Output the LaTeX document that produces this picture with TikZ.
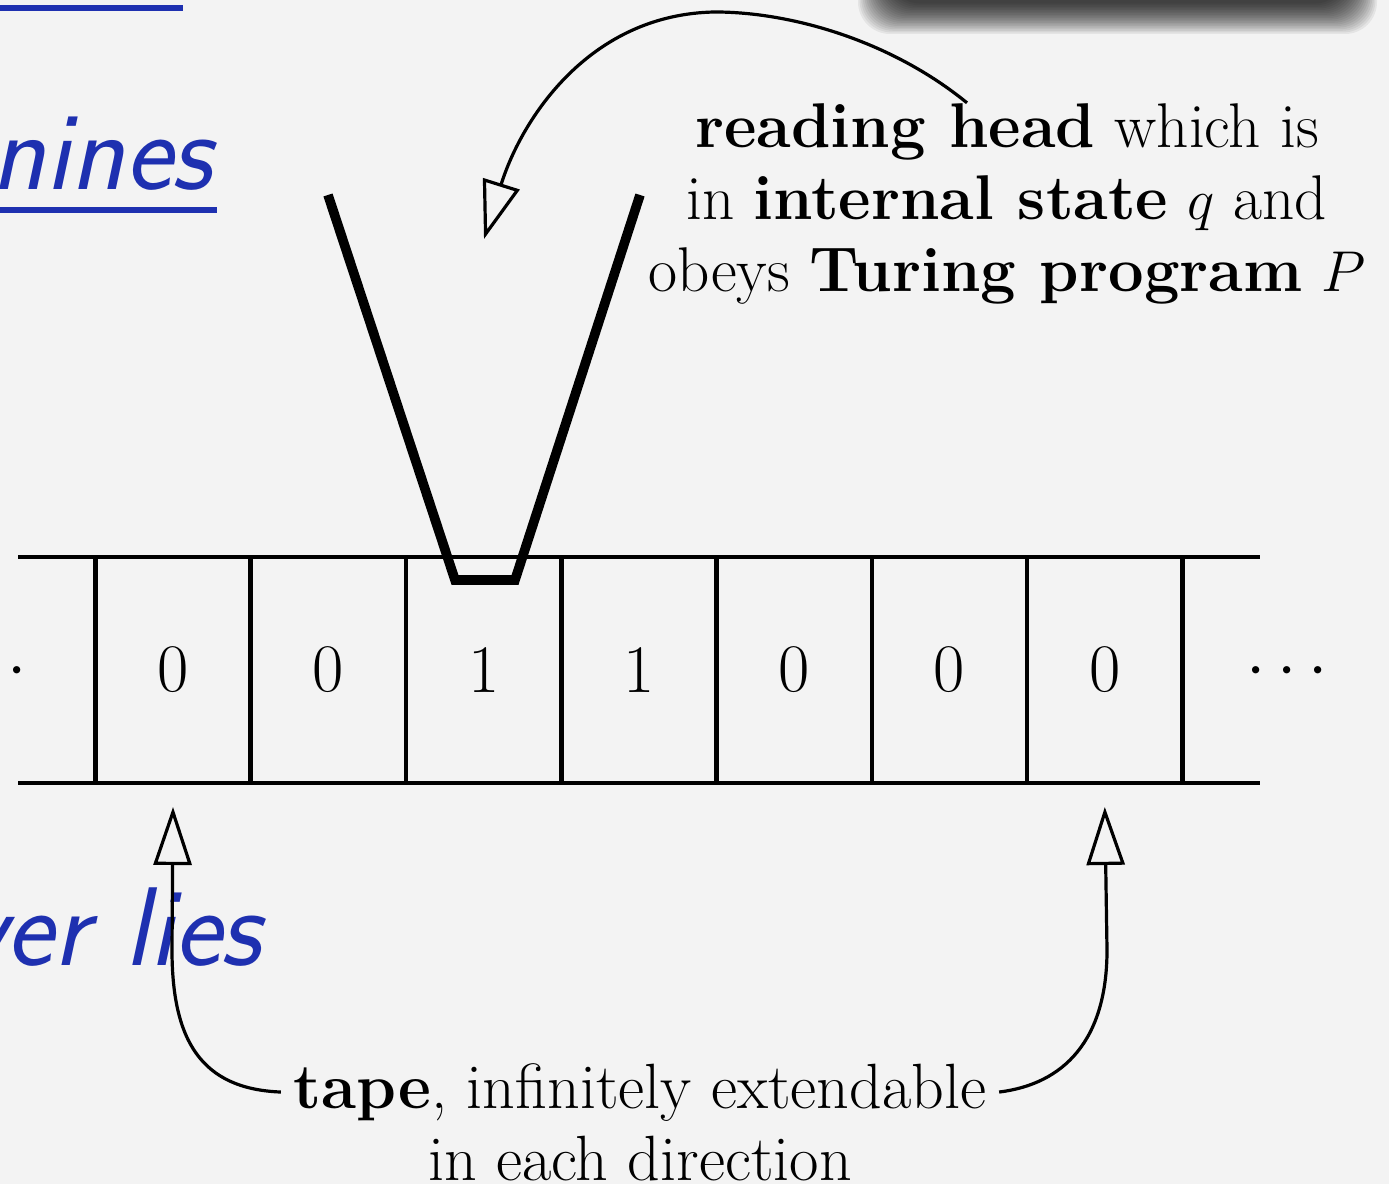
\documentclass[tikz,border=0pt]{standalone}
\usetikzlibrary{arrows.meta,positioning}
\definecolor{paper}{RGB}{243,243,243}
\definecolor{penblue}{RGB}{30,48,176}
\tikzset{
  cell/.style={draw, line width=1.1pt, minimum width=38.8pt, minimum height=56.5pt, inner sep=0pt, outer sep=0pt, font=\fontsize{17}{20}\selectfont},
  tapeline/.style={line width=1.1pt},
  headline/.style={line width=2.4pt},
  tarr/.style={-{Triangle[open, length=14.5pt, width=9.5pt]}, line width=0.8pt},
  lbl/.style={align=center, inner sep=3pt, font=\fontsize{15.8}{18}\selectfont},
  hand/.style={text=penblue, font=\fontsize{28}{30}\selectfont\sffamily\itshape, inner sep=0pt},
  penline/.style={penblue, line width=1.3pt},
}
\begin{document}
\begin{tikzpicture}[x=0.25pt, y=-0.25pt]
\useasboundingbox (0,0) rectangle (1389,1184);
\clip (0,0) rectangle (1389,1184);
\fill[paper] (0,0) rectangle (1389,1184);
% shadow of the box above
\foreach \i in {0,...,19}
  \fill[black, opacity=0.06, rounded corners=8pt] (858+1.6*\i,-60) rectangle (1377-1.6*\i,34-1.6*\i);

% handwriting left over from the slide
\draw[penline] (0,8) -- (183,8);
\node[hand, anchor=base east] (hw1) at (213,190) {nines};
\draw[penline] (0,210) -- (217,210);
\node[hand, anchor=base east] (hw2) at (262,965) {ver lies};

% tape
\foreach \d [count=\i] in {0,0,1,1,0,0,0}
  \node[cell] (c\i) at (173+155.3*\i-155.3, 670) {\d};
\draw[tapeline] (18,557) -- (c1.north west);
\draw[tapeline] (18,783) -- (c1.south west);
\draw[tapeline] (c7.north east) -- (1260,557);
\draw[tapeline] (c7.south east) -- (1260,783);
\node[font=\fontsize{17}{20}\selectfont] (ldots) at (-13,672) {$\cdots$};
\node[font=\fontsize{17}{20}\selectfont] (rdots) at (1287,672) {$\cdots$};

% reading head
\draw[headline] (328,195) -- (455,580) -- (515,580) -- (640,195);
\coordinate (headin) at (484,239);

\node[lbl] (headlbl) at (1007,204) {\textbf{reading head} which is\\ in \textbf{internal state} $q$ and\\ obeys \textbf{Turing program} $P$};
\draw[tarr] ([xshift=-10pt, yshift=-3pt]headlbl.north) .. controls (890,40) and (790,12) .. (715,12) .. controls (590,14) and (522,118) .. (headin);

\node[lbl, anchor=base, font=\fontsize{16}{18}\selectfont] (tape1) at (640,1108) {\textbf{tape}, infinitely extendable};
\node[lbl, anchor=base, font=\fontsize{16}{18}\selectfont] (tape2) at (640,1180) {in each direction};
\draw[tarr] (tape1.west) .. controls +(-80,-3) and +(0,90) .. (172,950) -- ([yshift=-6pt]c1.south);
\draw[tarr] (tape1.east) .. controls +(65,-8) and +(0,90) .. (1107,950) -- ([yshift=-6pt]c7.south);
\end{tikzpicture}
\end{document}
